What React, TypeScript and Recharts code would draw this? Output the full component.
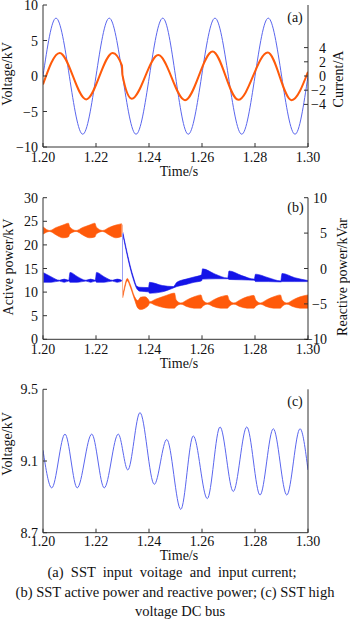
import React from "react";
import { ComposedChart, Line, Area, XAxis, YAxis } from "recharts";

const FONT = '"Liberation Serif", "Times New Roman", serif';
const AXIS = "#333";
const ORANGE = "#ff5a0a";
const BLUE = "#1414e8";
const LIGHT_BLUE = "#5a66ee";

const timeTicks = [1.2, 1.22, 1.24, 1.26, 1.28, 1.3];

// (a) input voltage (kV) and input current (A), extrema
const inputVoltage: [number, number][] = [
  [1.2, 0], [1.2049, 8.15], [1.215, -8.2], [1.225, 8.15], [1.2351, -8.2],
  [1.2452, 8.15], [1.2548, -8.2], [1.2649, 8.15], [1.275, -8.2],
  [1.285, 8.15], [1.2951, -8.2], [1.3, 0],
];
const inputCurrent: [number, number][] = [
  [1.2, -1.2], [1.2063, 3.25], [1.2163, -3.3], [1.2263, 3.25], [1.2298, 1.45],
  [1.23, 0.1], [1.2335, -3.2], [1.2435, 2.95], [1.2536, -3.4], [1.264, 3.45],
  [1.2737, -3.35], [1.2848, 3.3], [1.2938, -3.4], [1.3, 0.6],
];
const voltageTicks = [-10, -5, 0, 5, 10];
const currentTicks = [-4, -2, 0, 2, 4];

// (b) active power envelope (kW) [t, low, high]
const activeBand: [number, number, number][] = [
  [1.2001, 22.3, 23.8], [1.2025, 22.85, 23.05], [1.205, 22.1, 23.7], [1.2075, 21.5, 24.2], [1.2096, 21.7, 24.6],
  [1.2101, 22.3, 23.8], [1.2125, 22.85, 23.05], [1.215, 22.1, 23.7], [1.2175, 21.5, 24.2], [1.2196, 21.7, 24.6],
  [1.2201, 22.3, 23.8], [1.2225, 22.85, 23.05], [1.225, 22.1, 23.7], [1.2275, 21.5, 24.2], [1.2297, 21.8, 24.5],
];
const activeStep: [number, number][] = [[1.23, 24.3], [1.23, 9.0]];
const activeAfter: [number, number, number][] = [
  [1.2301, 8.8, 9.3], [1.2308, 10.7, 11.2], [1.2318, 12.4, 12.9], [1.233, 11.0, 11.5],
  [1.2345, 8.5, 9.1], [1.2358, 6.6, 8.2], [1.2368, 6.3, 8.9], [1.2385, 6.6, 9.0],
  [1.2398, 7.2, 8.4], [1.2403, 7.7, 7.95], [1.2425, 7.2, 8.5], [1.245, 6.8, 9.0],
  [1.2475, 6.6, 9.5], [1.2496, 6.6, 9.8],
  [1.2503, 7.0, 8.3], [1.252, 7.45, 7.7], [1.2545, 6.9, 8.4], [1.257, 6.6, 9.0], [1.2596, 6.6, 9.4],
  [1.2603, 7.0, 8.3], [1.262, 7.45, 7.7], [1.2645, 6.9, 8.4], [1.267, 6.6, 9.0], [1.2696, 6.6, 9.3],
  [1.2703, 7.0, 8.3], [1.272, 7.45, 7.7], [1.2745, 6.9, 8.4], [1.277, 6.6, 9.0], [1.2796, 6.6, 9.3],
  [1.2803, 7.0, 8.3], [1.282, 7.45, 7.7], [1.2845, 6.9, 8.4], [1.287, 6.6, 9.0], [1.2896, 6.6, 9.4],
  [1.2903, 7.0, 8.3], [1.292, 7.45, 7.7], [1.2945, 6.9, 8.4], [1.297, 6.6, 9.0], [1.3, 6.6, 9.4],
];

// (b) reactive power envelope (kVar) [t, low, high]
const reactiveBand: [number, number, number][] = [
  [1.2002, -1.95, -0.6], [1.203, -1.95, -1.15], [1.2062, -1.78, -1.66], [1.208, -1.95, -1.5], [1.2097, -1.78, -1.66],
  [1.2102, -1.95, -0.55], [1.213, -1.95, -1.15], [1.2162, -1.78, -1.66], [1.218, -1.95, -1.5], [1.2197, -1.78, -1.66],
  [1.2202, -1.95, -0.55], [1.223, -1.95, -1.15], [1.2262, -1.78, -1.66], [1.228, -1.95, -1.5], [1.2297, -1.78, -1.66],
];
const reactiveStep: [number, number][] = [[1.23, -1.7], [1.23, 5.0]];
const reactiveAfter: [number, number, number][] = [
  [1.2301, 4.85, 5.15], [1.2341, -1.55, -1.2], [1.2354, -2.85, -2.5], [1.2365, -3.2, -2.65],
  [1.2398, -3.3, -2.7], [1.2402, -3.5, -1.95], [1.245, -3.3, -2.4], [1.2492, -2.75, -2.55],
  [1.2505, -2.55, -1.95], [1.254, -2.25, -1.5], [1.257, -1.95, -1.2], [1.2598, -1.75, -0.9],
  [1.2602, -1.5, -0.05], [1.265, -1.45, -0.8], [1.2697, -1.45, -1.35],
  [1.2702, -1.55, -0.35], [1.275, -1.6, -1.0], [1.2797, -1.65, -1.5],
  [1.2802, -1.85, -0.8], [1.285, -1.85, -1.3], [1.2897, -1.9, -1.75],
  [1.2902, -1.85, -0.7], [1.295, -1.85, -1.3], [1.3, -1.85, -1.7],
];
const activeTicks = [0, 5, 10, 15, 20, 25, 30];
const reactiveTicks = [-10, -5, 0, 5, 10];

// (c) high voltage DC bus (kV), extrema
const dcBusVoltage: [number, number][] = [
  [1.2, 9.16], [1.2033, 8.95], [1.2083, 9.25], [1.2129, 8.95], [1.2184, 9.25],
  [1.2231, 8.95], [1.2284, 9.25], [1.232, 9.05], [1.2366, 9.37], [1.242, 8.97],
  [1.2467, 9.22], [1.252, 8.83], [1.2567, 9.24], [1.262, 8.89], [1.2668, 9.29],
  [1.2718, 8.93], [1.2769, 9.29], [1.2819, 8.91], [1.2869, 9.28], [1.292, 8.91],
  [1.297, 9.28], [1.3, 9.05],
];
const dcTicks = [8.7, 9.1, 9.5];

const pts = (a: [number, number][]) => a.map(([t, v]) => ({ t, v }));
const band = (a: [number, number, number][]) => a.map(([t, lo, hi]) => ({ t, v: [lo, hi] }));

const minus = (s: string) => s.replace("-", "\u2212");

function tick(anchor: "start" | "middle" | "end", dy: number, fmt: (v: number) => string) {
  return (p: any) => (
    <text x={p.x} y={p.y + dy} textAnchor={anchor} fontSize={14} fontFamily={FONT} fill="#111">
      {fmt(p.payload.value)}
    </text>
  );
}

const timeFmt = (v: number) => v.toFixed(2);
const intFmt = (v: number) => minus(String(v));

function Txt({ x, y, rot, size = 14, children }: { x: number; y: number; rot?: boolean; size?: number; children: React.ReactNode }) {
  return (
    <div
      style={{
        position: "absolute",
        left: x,
        top: y,
        transform: `translate(-50%, -50%)${rot ? " rotate(-90deg)" : ""}`,
        whiteSpace: "pre",
        fontFamily: FONT,
        fontSize: size,
        lineHeight: "16px",
        color: "#111",
      }}
    >
      {children}
    </div>
  );
}

function TimeAxes({ height, dy }: { height: number; dy: number }) {
  return [
    <XAxis
      key="b"
      xAxisId={0}
      dataKey="t"
      type="number"
      domain={[1.2, 1.3]}
      ticks={timeTicks}
      height={height}
      axisLine={{ stroke: AXIS }}
      tickLine={{ stroke: AXIS }}
      tickSize={-4}
      tickMargin={4}
      tick={tick("middle", dy, timeFmt)}
      interval={0}
      allowDataOverflow
    />,
    <XAxis
      key="t"
      xAxisId="top"
      orientation="top"
      type="number"
      domain={[1.2, 1.3]}
      height={0}
      tick={false}
      tickLine={false}
      axisLine={{ stroke: AXIS }}
    />,
  ];
}

export default function App() {
  return (
    <div style={{ position: "absolute", left: 0, top: 0, width: 350, height: 619, background: "#fff", overflow: "hidden" }}>
      {/* (a) */}
      <div style={{ position: "absolute", left: 0, top: 0 }}>
        <ComposedChart width={350} height={180} margin={{ top: 5, right: 0, bottom: 0, left: 0 }}>
          {TimeAxes({ height: 33, dy: 15 })}
          <YAxis
            yAxisId="left"
            type="number"
            domain={[-10, 10]}
            ticks={voltageTicks}
            width={43}
            axisLine={{ stroke: AXIS }}
            tickLine={{ stroke: AXIS }}
            tickSize={-4}
            tickMargin={9}
            tick={tick("end", 5, intFmt)}
            interval={0}
          />
          <YAxis
            yAxisId="right"
            orientation="right"
            type="number"
            domain={[-10, 10]}
            ticks={currentTicks}
            width={42}
            axisLine={{ stroke: AXIS }}
            tickLine={{ stroke: AXIS }}
            tickSize={-4}
            tickMargin={22}
            tick={tick("end", 5, intFmt)}
            interval={0}
          />
          <Line yAxisId="left" data={pts(inputVoltage)} dataKey="v" type="monotone" stroke={LIGHT_BLUE} strokeWidth={1} dot={false} activeDot={false} isAnimationActive={false} />
          <Line yAxisId="right" data={pts(inputCurrent)} dataKey="v" type="monotone" stroke={ORANGE} strokeWidth={2} dot={false} activeDot={false} isAnimationActive={false} />
        </ComposedChart>
      </div>

      {/* (b) */}
      <div style={{ position: "absolute", left: 0, top: 185 }}>
        <ComposedChart width={350} height={185} margin={{ top: 12.7, right: 0, bottom: 0, left: 0 }}>
          {TimeAxes({ height: 30.7, dy: 15 })}
          <YAxis
            yAxisId="left"
            type="number"
            domain={[0, 30]}
            ticks={activeTicks}
            width={43}
            axisLine={{ stroke: AXIS }}
            tickLine={{ stroke: AXIS }}
            tickSize={-4}
            tickMargin={9}
            tick={tick("end", 5, intFmt)}
            interval={0}
          />
          <YAxis
            yAxisId="right"
            orientation="right"
            type="number"
            domain={[-10, 10]}
            ticks={reactiveTicks}
            width={42}
            axisLine={{ stroke: AXIS }}
            tickLine={{ stroke: AXIS }}
            tickSize={-4}
            tickMargin={23}
            tick={tick("end", 5, intFmt)}
            interval={0}
          />
          <Area yAxisId="left" data={band(activeBand)} dataKey="v" type="monotone" stroke={ORANGE} strokeWidth={0.6} fill={ORANGE} fillOpacity={1} dot={false} activeDot={false} isAnimationActive={false} />
          <Area yAxisId="left" data={band(activeAfter)} dataKey="v" type="monotone" stroke={ORANGE} strokeWidth={0.6} fill={ORANGE} fillOpacity={1} dot={false} activeDot={false} isAnimationActive={false} />
          <Line yAxisId="left" data={pts(activeStep)} dataKey="v" type="linear" stroke="#f6b49a" strokeWidth={1} dot={false} activeDot={false} isAnimationActive={false} />
          <Area yAxisId="right" data={band(reactiveBand)} dataKey="v" type="monotone" stroke={BLUE} strokeWidth={0.6} fill={BLUE} fillOpacity={1} dot={false} activeDot={false} isAnimationActive={false} />
          <Area yAxisId="right" data={band(reactiveAfter)} dataKey="v" type="monotone" stroke={BLUE} strokeWidth={0.6} fill={BLUE} fillOpacity={1} dot={false} activeDot={false} isAnimationActive={false} />
          <Line yAxisId="right" data={pts(reactiveStep)} dataKey="v" type="linear" stroke="#9aa0f4" strokeWidth={1} dot={false} activeDot={false} isAnimationActive={false} />
        </ComposedChart>
      </div>

      {/* (c) */}
      <div style={{ position: "absolute", left: 0, top: 375 }}>
        <ComposedChart width={350} height={185} margin={{ top: 14.3, right: 0, bottom: 0, left: 0 }}>
          {TimeAxes({ height: 27.3, dy: 13 })}
          <YAxis
            yAxisId="left"
            type="number"
            domain={[8.7, 9.5]}
            ticks={dcTicks}
            width={43}
            axisLine={{ stroke: AXIS }}
            tickLine={{ stroke: AXIS }}
            tickSize={-4}
            tickMargin={9}
            tick={tick("end", 5, (v) => v.toFixed(1))}
            interval={0}
            allowDataOverflow
          />
          <YAxis yAxisId="right" orientation="right" type="number" domain={[0, 1]} width={42} tick={false} tickLine={false} axisLine={{ stroke: AXIS }} />
          <Line yAxisId="left" data={pts(dcBusVoltage)} dataKey="v" type="monotone" stroke={LIGHT_BLUE} strokeWidth={1} dot={false} activeDot={false} isAnimationActive={false} />
        </ComposedChart>
      </div>

      {/* axis titles and panel tags */}
      <Txt x={8} y={73.5} rot>Voltage/kV</Txt>
      <Txt x={338.5} y={79} rot>Current/A</Txt>
      <Txt x={179} y={171.7}>Time/s</Txt>
      <Txt x={295} y={17.5}>(a)</Txt>

      <Txt x={8.5} y={266.5} rot>Active power/kV</Txt>
      <Txt x={343} y={276.7} rot>Reactive power/kVar</Txt>
      <Txt x={179} y={364}>Time/s</Txt>
      <Txt x={295.5} y={207.5}>(b)</Txt>

      <Txt x={8} y={444} rot>Voltage/kV</Txt>
      <Txt x={179} y={555.7}>Time/s</Txt>
      <Txt x={295} y={402}>(c)</Txt>

      <Txt x={172} y={571.7} size={14.5}>(a)  SST  input  voitage  and  input current;</Txt>
      <Txt x={175} y={591.7} size={14.5}>(b) SST active power and reactive power; (c) SST high</Txt>
      <Txt x={180} y={610.7} size={14.5}>voltage DC bus</Txt>
    </div>
  );
}
